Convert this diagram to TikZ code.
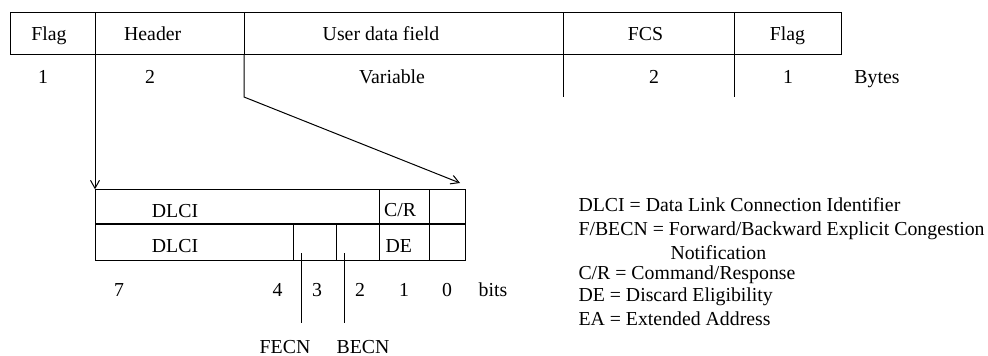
\documentclass[tikz,border=0pt]{standalone}
\usepackage{fontspec}
\setmainfont{Liberation Serif}
\usetikzlibrary{arrows.meta}
\begin{document}
\begin{tikzpicture}[x=1pt,y=-1pt,line width=1pt,
  lbl/.style={anchor=base,inner sep=0pt,font=\fontsize{19.8}{23}\selectfont},
  leg/.style={anchor=base west,inner sep=0pt,font=\fontsize{19.8}{23}\selectfont},
  tipline/.style={-{Straight Barb[length=8pt,width=9pt]}}]
\useasboundingbox (0,0) rectangle (988,356);
% top frame table
\draw (10,12) rectangle (841,54);
\foreach \x in {95,244,563,734} \draw (\x,12) -- (\x,54);
\draw (563,54) -- (563,97);
\draw (734,54) -- (734,97);
% header labels
\node[lbl] (flag1) at (49,40.7) {Flag};
\node[lbl] (hdr) at (152.7,40.7) {Header};
\node[lbl] (udf) at (381,40.7) {User data field};
\node[lbl] (fcs) at (645.5,40.7) {FCS};
\node[lbl] (flag2) at (787.5,40.7) {Flag};
% sizes
\node[lbl] (s1) at (43,83.3) {1};
\node[lbl] (s2) at (150,83.3) {2};
\node[lbl] (s3) at (392,83.3) {Variable};
\node[lbl] (s4) at (654,83.3) {2};
\node[lbl] (s5) at (788,83.3) {1};
\node[lbl] (sb) at (877,83.3) {Bytes};
% coordinates for connectors
\coordinate (hdrL) at (95,54);
\coordinate (hdrR) at (244,54);
\coordinate (bend) at (244,97);
\coordinate (boxTL) at (95,189.3);
\coordinate (tipR) at (460,183);
\draw[tipline] (hdrL) -- (boxTL);
\draw[tipline] (hdrR) -- (bend) -- (tipR);
% address field box
\draw (95,189.3) rectangle (465,260);
\draw[line width=1.7pt] (95,224.3) -- (465,224.3);
\draw (379.3,189.3) -- (379.3,260);
\draw (429,189.3) -- (429,260);
\draw (293.7,224.3) -- (293.7,260);
\draw (336.3,224.3) -- (336.3,260);
\node[lbl] (d1) at (175,217.3) {DLCI};
\node[lbl] (cr) at (400,216.7) {C/R};
\node[lbl] (d2) at (175,252.7) {DLCI};
\node[lbl] (de) at (398.7,252.7) {DE};
% bit numbers
\node[lbl] (b7) at (119,296.7) {7};
\node[lbl] (b4) at (277.5,296.7) {4};
\node[lbl] (b3) at (317,296.7) {3};
\node[lbl] (b2) at (360,296.7) {2};
\node[lbl] (b1) at (404,296.7) {1};
\node[lbl] (b0) at (447,296.7) {0};
\node[lbl] (bits) at (493,296.7) {bits};
% FECN / BECN pointers
\coordinate (fTop) at (301,253);
\coordinate (fBot) at (301,323.3);
\coordinate (bTop) at (344,253);
\coordinate (bBot) at (344,323.3);
\draw (fTop) -- (fBot);
\draw (bTop) -- (bBot);
\node[lbl] (fecn) at (285,353.3) {FECN};
\node[lbl] (becn) at (363,353.3) {BECN};
% legend
\node[leg] (l1) at (578,211.7) {DLCI = Data Link Connection Identifier};
\node[leg] (l2) at (578,235) {F/BECN = Forward/Backward Explicit Congestion};
\node[leg] (l3) at (670,259) {Notification};
\node[leg] (l4) at (578,279) {C/R = Command/Response};
\node[leg] (l5) at (578,301.7) {DE = Discard Eligibility};
\node[leg] (l6) at (578,325) {EA = Extended Address};
\end{tikzpicture}
\end{document}
